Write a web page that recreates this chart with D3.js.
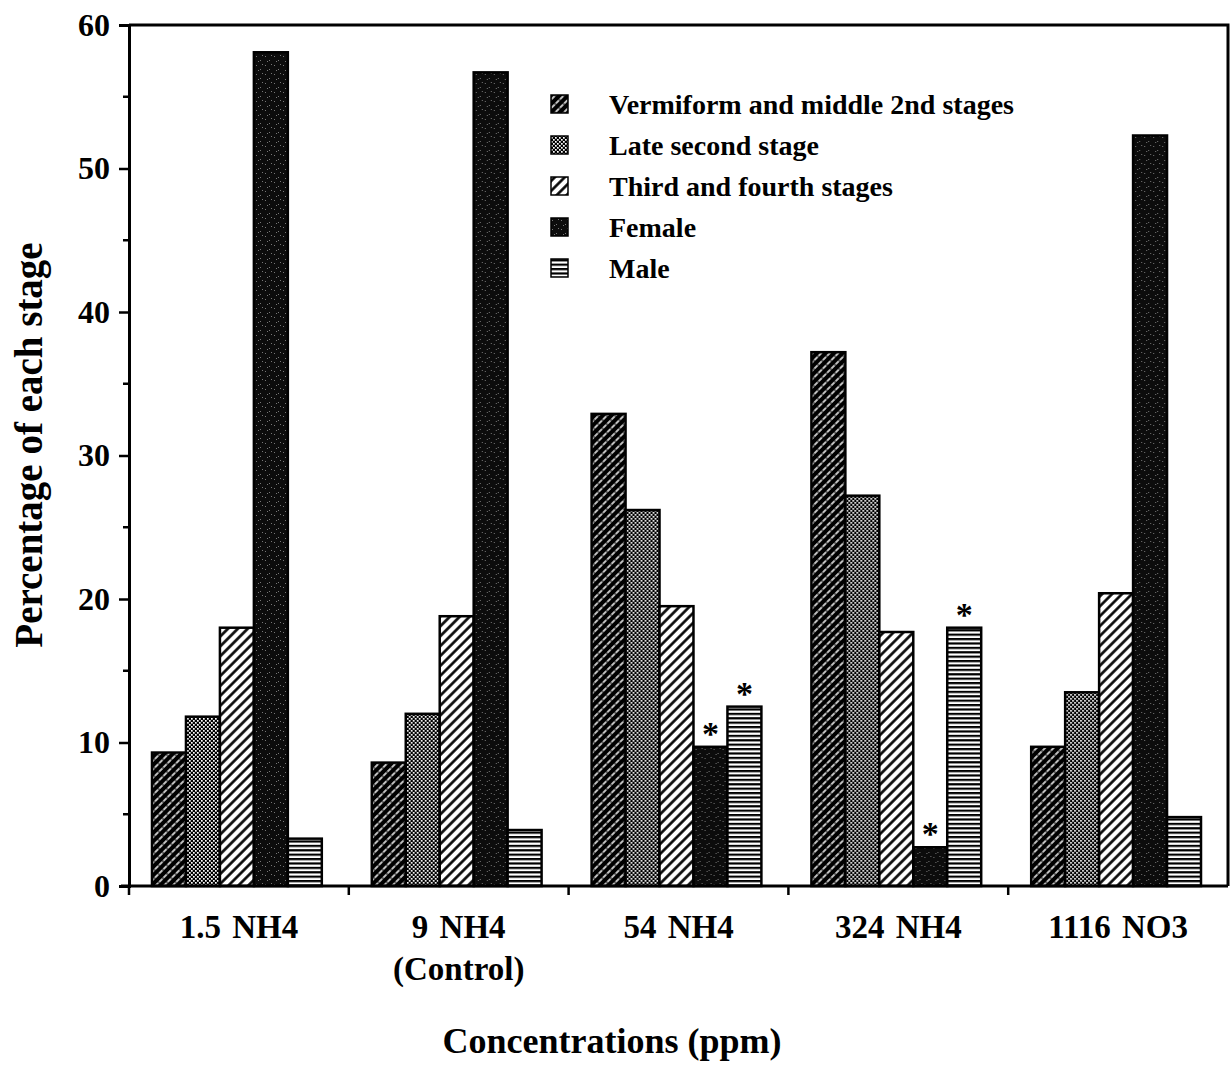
<!DOCTYPE html>
<html>
<head>
<meta charset="utf-8">
<script src="https://cdn.jsdelivr.net/npm/d3@7"></script>
<style>
  html, body { margin: 0; padding: 0; background: #fff; }
  svg { display: block; }
  text { font-family: "Liberation Serif", "Times New Roman", serif; font-weight: bold; fill: #000; }
</style>
</head>
<body>
<svg id="chart" width="1231" height="1084"></svg>
<script>
// Concentration groups on the x axis
const categories = ["1.5 NH4", "9 NH4", "54 NH4", "324 NH4", "1116 NO3"];
const categorySubLabels = ["", "(Control)", "", "", ""];

// Life stages (one bar per stage in each group)
const stages = [
  "Vermiform and middle 2nd stages",
  "Late second stage",
  "Third and fourth stages",
  "Female",
  "Male"
];

// Percentage of each stage, per concentration
const vermiform   = [9.3, 8.6, 32.9, 37.2, 9.7];
const lateSecond  = [11.8, 12.0, 26.2, 27.2, 13.5];
const thirdFourth = [18.0, 18.8, 19.5, 17.7, 20.4];
const female      = [58.1, 56.7, 9.7, 2.7, 52.3];
const male        = [3.3, 3.9, 12.5, 18.0, 4.8];
const seriesValues = [vermiform, lateSecond, thirdFourth, female, male];

// Bars marked as significantly different: [group index, stage index]
const significant = [[2, 3], [2, 4], [3, 3], [3, 4]];

// Axis ticks
const yMajorTicks = [0, 10, 20, 30, 40, 50, 60];
const yMinorTicks = [5, 15, 25, 35, 45, 55];

const xTitle = "Concentrations (ppm)";
const yTitle = "Percentage of each stage";

const svg = d3.select("#chart");
const plot = { left: 129, right: 1228, top: 25, bottom: 886 };

const x = d3.scaleBand().domain(categories).range([plot.left, plot.right]).padding(0);
const xs = d3.scaleBand().domain(d3.range(stages.length))
  .range([23, x.bandwidth() - 27]).paddingInner(0).paddingOuter(0);
const y = d3.scaleLinear().domain([0, 60]).range([plot.bottom, plot.top]);

// ---- fill patterns ----
const defs = svg.append("defs");

// black with fine white diagonal strokes
const p0 = defs.append("pattern").attr("id", "pat0").attr("patternUnits", "userSpaceOnUse")
  .attr("width", 6).attr("height", 6).attr("patternTransform", "rotate(45)");
p0.append("rect").attr("width", 6).attr("height", 6).attr("fill", "#000");
p0.append("line").attr("x1", 3).attr("y1", 0).attr("x2", 3).attr("y2", 6)
  .attr("stroke", "#fff").attr("stroke-width", 1.5).attr("stroke-dasharray", "2.5 1");

// dense dot screen
const p1 = defs.append("pattern").attr("id", "pat1").attr("patternUnits", "userSpaceOnUse")
  .attr("width", 4).attr("height", 4);
p1.append("rect").attr("width", 4).attr("height", 4).attr("fill", "#000");
p1.append("rect").attr("width", 1.7).attr("height", 1.7).attr("fill", "#fff");
p1.append("rect").attr("x", 2).attr("y", 2).attr("width", 1.7).attr("height", 1.7).attr("fill", "#fff");

// white with black diagonal stripes
const p2 = defs.append("pattern").attr("id", "pat2").attr("patternUnits", "userSpaceOnUse")
  .attr("width", 7).attr("height", 7).attr("patternTransform", "rotate(45)");
p2.append("rect").attr("width", 7).attr("height", 7).attr("fill", "#fff");
p2.append("line").attr("x1", 3.5).attr("y1", 0).attr("x2", 3.5).attr("y2", 7)
  .attr("stroke", "#000").attr("stroke-width", 2.6);

// near-solid black with sparse speckles
const p3 = defs.append("pattern").attr("id", "pat3").attr("patternUnits", "userSpaceOnUse")
  .attr("width", 9).attr("height", 9);
p3.append("rect").attr("width", 9).attr("height", 9).attr("fill", "#0c0c0c");
[[1, 2], [5, 6], [7, 1], [3, 7]].forEach(([px, py]) =>
  p3.append("rect").attr("x", px).attr("y", py).attr("width", 1).attr("height", 1).attr("fill", "#777"));

// horizontal lines
const p4 = defs.append("pattern").attr("id", "pat4").attr("patternUnits", "userSpaceOnUse")
  .attr("width", 8).attr("height", 4.4);
p4.append("rect").attr("width", 8).attr("height", 4.4).attr("fill", "#fff");
p4.append("rect").attr("y", 0).attr("width", 8).attr("height", 2.2).attr("fill", "#000");

const fills = stages.map((_, i) => `url(#pat${i})`);

// ---- bars ----
const groups = svg.append("g").selectAll("g").data(categories).join("g")
  .attr("transform", d => `translate(${x(d)},0)`);

groups.selectAll("rect").data((c, gi) => seriesValues.map((vals, si) => ({ si, v: vals[gi] })))
  .join("rect")
  .attr("x", d => xs(d.si))
  .attr("y", d => y(d.v))
  .attr("width", xs.bandwidth())
  .attr("height", d => y(0) - y(d.v))
  .attr("fill", d => fills[d.si])
  .attr("stroke", "#000")
  .attr("stroke-width", 2.5);

// significance markers
svg.append("g").selectAll("text").data(significant).join("text")
  .attr("x", d => x(categories[d[0]]) + xs(d[1]) + xs.bandwidth() / 2)
  .attr("y", d => y(seriesValues[d[1]][d[0]]) - 2)
  .attr("text-anchor", "middle")
  .attr("font-size", 34)
  .text("*");

// ---- frame ----
svg.append("path")
  .attr("d", `M${plot.left},${plot.top}H${plot.right}V${plot.bottom}`)
  .attr("fill", "none").attr("stroke", "#000").attr("stroke-width", 3);

// ---- y axis ----
const yAxis = svg.append("g").attr("transform", `translate(${plot.left},0)`)
  .call(d3.axisLeft(y).tickValues(yMajorTicks).tickSize(10).tickPadding(9).tickFormat(d3.format("d")));
yAxis.select(".domain").attr("stroke-width", 3);
yAxis.selectAll(".tick line").attr("stroke-width", 2.5);
yAxis.selectAll(".tick text").attr("font-size", 32).attr("font-family", "Liberation Serif").attr("font-weight", "bold").attr("dy", "0.32em");

svg.append("g").selectAll("line").data(yMinorTicks).join("line")
  .attr("x1", plot.left - 6).attr("x2", plot.left)
  .attr("y1", d => y(d)).attr("y2", d => y(d))
  .attr("stroke", "#000").attr("stroke-width", 2.5);

// ---- x axis ----
svg.append("line")
  .attr("x1", plot.left - 8).attr("x2", plot.right)
  .attr("y1", plot.bottom).attr("y2", plot.bottom)
  .attr("stroke", "#000").attr("stroke-width", 3);

const boundaries = categories.map(c => x(c));
svg.append("g").selectAll("line").data(boundaries).join("line")
  .attr("x1", d => d).attr("x2", d => d)
  .attr("y1", plot.bottom).attr("y2", plot.bottom + 9)
  .attr("stroke", "#000").attr("stroke-width", 2.5);

svg.append("g").selectAll("text").data(categories).join("text")
  .attr("x", d => x(d) + x.bandwidth() / 2)
  .attr("y", 938)
  .attr("text-anchor", "middle")
  .attr("font-size", 33)
  .attr("word-spacing", 3)
  .text(d => d);

svg.append("g").selectAll("text").data(categories.filter((c, i) => categorySubLabels[i]))
  .join("text")
  .attr("x", d => x(d) + x.bandwidth() / 2)
  .attr("y", 980)
  .attr("text-anchor", "middle")
  .attr("font-size", 33)
  .text(d => categorySubLabels[categories.indexOf(d)]);

// ---- axis titles ----
svg.append("text")
  .attr("x", 612).attr("y", 1053)
  .attr("text-anchor", "middle")
  .attr("font-size", 36)
  .text(xTitle);

svg.append("text")
  .attr("transform", `translate(42,445) rotate(-90)`)
  .attr("text-anchor", "middle")
  .attr("font-size", 39)
  .text(yTitle);

// ---- legend ----
const legend = svg.append("g").attr("transform", "translate(551,104)");
const items = legend.selectAll("g").data(stages).join("g")
  .attr("transform", (d, i) => `translate(0,${i * 41})`);
items.append("rect")
  .attr("x", 0).attr("y", -9).attr("width", 17).attr("height", 18)
  .attr("fill", (d, i) => fills[i]).attr("stroke", "#000").attr("stroke-width", 1.5);
items.append("text")
  .attr("x", 58).attr("y", 0).attr("dy", "0.35em")
  .attr("font-size", 28)
  .text(d => d);
</script>
</body>
</html>
